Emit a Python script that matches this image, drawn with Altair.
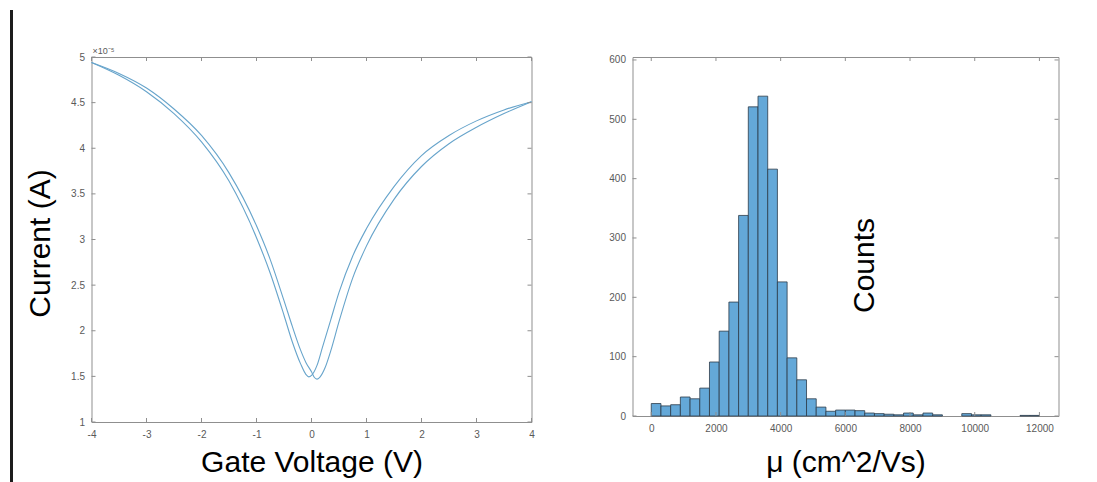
import altair as alt
import pandas as pd

# ---------------- Left panel: transfer curve (current in units of 1e-5 A) -------------
v_fwd = [-4, -3.5, -3, -2.5, -2, -1.5, -1, -0.75, -0.5, -0.35, -0.2, -0.1, -0.05,
         0, 0.1, 0.2, 0.35, 0.5, 0.75, 1, 1.5, 2, 2.5, 3, 3.5, 4]
i_fwd = [4.94, 4.80, 4.62, 4.38, 4.07, 3.64, 3.02, 2.63, 2.17, 1.88, 1.64, 1.52, 1.495,
         1.51, 1.62, 1.82, 2.12, 2.42, 2.82, 3.12, 3.58, 3.92, 4.14, 4.30, 4.42, 4.51]

v_rev = [-4, -3.5, -3, -2.5, -2, -1.5, -1, -0.75, -0.5, -0.35, -0.2, -0.1, 0,
         0.05, 0.1, 0.15, 0.25, 0.35, 0.5, 0.75, 1, 1.5, 2, 2.5, 3, 3.5, 4]
i_rev = [4.94, 4.82, 4.66, 4.43, 4.14, 3.73, 3.15, 2.78, 2.33, 2.05, 1.79, 1.65, 1.55,
         1.49, 1.47, 1.49, 1.60, 1.78, 2.10, 2.58, 2.93, 3.44, 3.80, 4.05, 4.23, 4.38, 4.51]

v_ticks = [-4, -3, -2, -1, 0, 1, 2, 3, 4]
i_ticks = [1, 1.5, 2, 2.5, 3, 3.5, 4, 4.5, 5]

# ---------------- Right panel: mobility histogram -------------
bin_width = 300
counts = [21, 17, 19, 32, 29, 47, 91, 143, 192, 338,
          521, 539, 416, 226, 98, 61, 29, 15, 8, 10,
          10, 9, 5, 4, 3, 2, 5, 2, 5, 2,
          0, 0, 4, 2, 2, 0, 0, 0, 1, 1]
mu_ticks = [0, 2000, 4000, 6000, 8000, 10000, 12000]
count_ticks = [0, 100, 200, 300, 400, 500, 600]

# ---------------- styling -------------
W1, H1 = 440, 365
W2, H2 = 426, 359
AX = "#8f8f8f"
LBL = "#595959"
FONT = "Liberation Sans"
LINE = "#67a4cb"
BAR = "#64a8d8"
EDGE = "#2c3b49"
TL = 4

iv_df = pd.DataFrame({
    "V": v_fwd + v_rev,
    "I": i_fwd + i_rev,
    "sweep": ["forward"] * len(v_fwd) + ["reverse"] * len(v_rev),
})
hist_df = pd.DataFrame({
    "b0": [k * bin_width for k in range(len(counts))],
    "b1": [(k + 1) * bin_width for k in range(len(counts))],
    "count": counts,
})
hist_df = hist_df[hist_df["count"] > 0]

common_axis = dict(domain=False, ticks=False, grid=False, labelFlush=False,
                   labelFont=FONT, labelFontSize=10, labelColor=LBL, labelPadding=7,
                   titleFont=FONT, titleFontSize=30, titleColor="black",
                   titleFontWeight="normal")


def tick_layers(xvals, yvals, xf, yf, xs, ys, W, H):
    xdf = pd.DataFrame({xf: xvals})
    ydf = pd.DataFrame({yf: yvals})
    out = []
    for a, b in [(0, TL), (W - TL, W)]:
        out.append(alt.Chart(ydf).mark_rule(color=AX, strokeWidth=1).encode(
            y=alt.Y(f"{yf}:Q", scale=ys), x=alt.value(a), x2=alt.value(b)))
    for a, b in [(0, TL), (H - TL, H)]:
        out.append(alt.Chart(xdf).mark_rule(color=AX, strokeWidth=1).encode(
            x=alt.X(f"{xf}:Q", scale=xs), y=alt.value(a), y2=alt.value(b)))
    return out


xs1 = alt.Scale(domain=[-4, 4], nice=False, zero=False)
ys1 = alt.Scale(domain=[1, 5], nice=False, zero=False)

curve = alt.Chart(iv_df).mark_line(color=LINE, strokeWidth=1.1, interpolate="monotone").encode(
    x=alt.X("V:Q", scale=xs1,
            axis=alt.Axis(values=v_ticks, title="Gate Voltage (V)", labelExpr="toString(datum.value)",
                          titleY=40, titleBaseline="middle", **common_axis)),
    y=alt.Y("I:Q", scale=ys1,
            axis=alt.Axis(values=i_ticks, title="Current (A)", labelExpr="toString(datum.value)",
                          titleX=-51, titleY=186, titleAngle=270, titleAlign="center",
                          titleBaseline="middle", **common_axis)),
    detail="sweep:N",
)

mult = alt.Chart(pd.DataFrame({"t": ["×10⁻⁵"]})).mark_text(
    align="left", baseline="bottom", fontSize=9, font=FONT, color=LBL
).encode(text="t:N", x=alt.value(1), y=alt.value(-1))

frame = alt.Chart(pd.DataFrame({"a": [0]})).mark_rule(color="#1c1c1c", strokeWidth=3).encode(
    x=alt.value(-80), y=alt.value(-47), y2=alt.value(430))

left = alt.layer(curve, *tick_layers(v_ticks, i_ticks, "V", "I", xs1, ys1, W1, H1), mult, frame).properties(
    width=W1, height=H1)

xs2 = alt.Scale(domain=[-580, 12590], nice=False, zero=False)
ys2 = alt.Scale(domain=[0, 605], nice=False)

bars = alt.Chart(hist_df).mark_rect(fill=BAR, stroke=EDGE, strokeWidth=0.8).encode(
    x=alt.X("b0:Q", scale=xs2,
            axis=alt.Axis(values=mu_ticks, format="d", title="μ (cm^2/Vs)",
                          titleY=46, titleBaseline="middle", **common_axis)),
    x2="b1:Q",
    y=alt.Y("count:Q", scale=ys2,
            axis=alt.Axis(values=count_ticks, format="d", title="Counts",
                          titleX=232, titleY=208, titleAngle=270, titleAlign="center",
                          titleBaseline="middle", **common_axis)),
    y2=alt.datum(0),
)

right = alt.layer(bars, *tick_layers(mu_ticks, count_ticks, "b0", "count", xs2, ys2, W2, H2)).properties(
    width=W2, height=H2)

chart = alt.hconcat(left, right, spacing=72).properties(
    padding={"left": 1.5, "top": 0, "right": 5, "bottom": 5},
    background="white",
).configure_view(stroke=AX, strokeWidth=1)

chart.save("out.html", embed_options={"renderer": "svg", "actions": False})
